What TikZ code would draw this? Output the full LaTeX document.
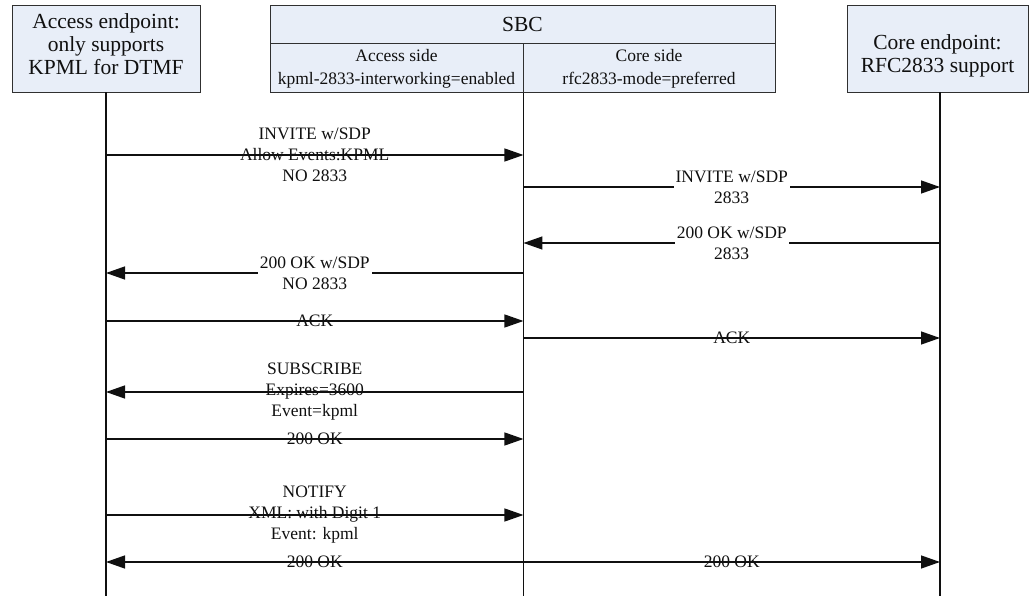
\documentclass[tikz,border=0pt]{standalone}
\usepackage{fontspec}
\setmainfont{Liberation Serif}
\usetikzlibrary{arrows.meta,positioning}
\definecolor{BoxFill}{HTML}{E8EEF8}
\definecolor{BoxLine}{HTML}{303030}
\definecolor{Ink}{HTML}{101010}
\tikzset{
  endpoint/.style={draw=BoxLine,fill=BoxFill,line width=0.9pt,minimum height=87pt,inner sep=0pt,align=center,text=Ink,font=\fontsize{21.5}{23}\selectfont},
  sbctitle/.style={draw=BoxLine,fill=BoxFill,line width=0.9pt,minimum width=505pt,minimum height=38pt,inner sep=0pt,align=center,text=Ink,font=\fontsize{21.5}{23}\selectfont},
  sbcside/.style={draw=BoxLine,fill=BoxFill,line width=0.9pt,minimum height=49pt,inner sep=0pt,align=center,text=Ink,font=\fontsize{17.5}{23}\selectfont},
  lifeline/.style={line width=1.3pt,color=Ink},
  msg/.style={-{Triangle[length=19pt,width=13pt]},line width=1.3pt,color=Ink},
  msglabel/.style={align=center,inner sep=0pt,text=Ink,font=\fontsize{17.5}{21}\selectfont},
  gaplabel/.style={msglabel,fill=white,inner xsep=2pt}
}
\begin{document}
\begin{tikzpicture}[x=1pt,y=-1pt]
  \useasboundingbox (0,0) rectangle (1029,596);
  % parties
  \node[endpoint,minimum width=188pt] (acc) at (106,48.5) {Access endpoint:\\only supports\\KPML for DTMF\rule[-9pt]{0pt}{0pt}};
  \node[sbctitle] (sbc) at (522.5,24) {SBC};
  \node[sbcside,minimum width=253pt,below right=0pt of sbc.south west] (sbcacc) {Access side\\kpml-2833-interworking=enabled};
  \node[sbcside,minimum width=252pt,below left=0pt of sbc.south east] (sbccore) {Core side\\rfc2833-mode=preferred};
  \node[endpoint,minimum width=181pt] (core) at (937.5,48.5) {\rule{0pt}{29pt}Core endpoint:\\RFC2833 support};
  % lifelines
  \coordinate (accl) at (acc.south);
  \coordinate (sbcl) at (sbcacc.south east);
  \coordinate (corel) at ([xshift=2.5pt]core.south);
  \coordinate (bottom) at (0,596);
  \draw[lifeline] (accl) -- (accl |- bottom);
  \draw[lifeline] (sbcl) -- (sbcl |- bottom);
  \draw[lifeline] (corel) -- (corel |- bottom);
  % message rows
  \coordinate (m1) at (0,155);
  \coordinate (m2) at (0,187);
  \coordinate (m3) at (0,243);
  \coordinate (m4) at (0,273);
  \coordinate (m5) at (0,321);
  \coordinate (m6) at (0,338);
  \coordinate (m7) at (0,392);
  \coordinate (m8) at (0,439);
  \coordinate (m9) at (0,515);
  \coordinate (m10) at (0,562);
  \draw[msg] (accl |- m1) -- node[msglabel]{INVITE w/SDP\\Allow Events:KPML\\NO 2833} (sbcl |- m1);
  \draw[msg] (sbcl |- m2) -- node[gaplabel]{INVITE w/SDP\\2833} (corel |- m2);
  \draw[msg] (corel |- m3) -- node[gaplabel]{200 OK w/SDP\\2833} (sbcl |- m3);
  \draw[msg] (sbcl |- m4) -- node[gaplabel]{200 OK w/SDP\\NO 2833} (accl |- m4);
  \draw[msg] (accl |- m5) -- node[msglabel]{ACK} (sbcl |- m5);
  \draw[msg] (sbcl |- m6) -- node[msglabel]{ACK} (corel |- m6);
  \draw[msg] (sbcl |- m7) -- node[msglabel]{SUBSCRIBE\\Expires=3600\\Event=kpml} (accl |- m7);
  \draw[msg] (accl |- m8) -- node[msglabel]{200 OK} (sbcl |- m8);
  \draw[msg] (accl |- m9) -- node[msglabel]{NOTIFY\\XML: with Digit 1\\Event: kpml} (sbcl |- m9);
  \draw[msg] (sbcl |- m10) -- node[msglabel]{200 OK} (accl |- m10);
  \draw[msg] (sbcl |- m10) -- node[msglabel]{200 OK} (corel |- m10);
\end{tikzpicture}
\end{document}
